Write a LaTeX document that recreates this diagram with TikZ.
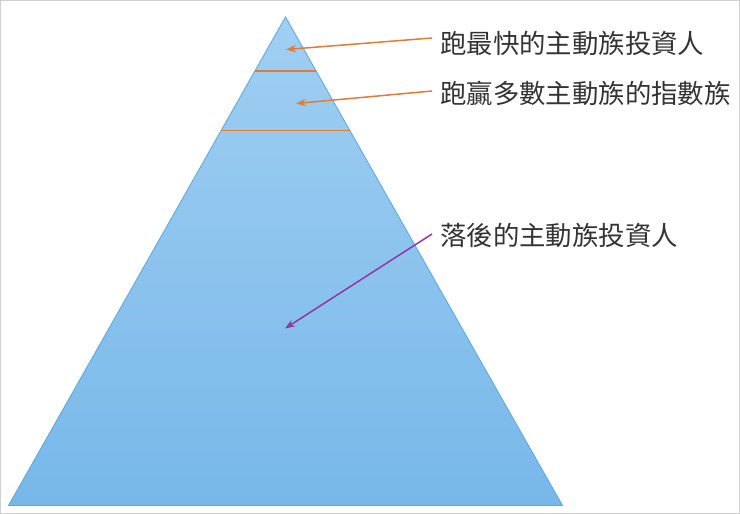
\documentclass[tikz,border=0pt]{standalone}
\usepackage{fontspec}
\newfontfamily\cjk{Noto Sans CJK TC}
\usetikzlibrary{arrows.meta, positioning, calc}
\definecolor{pyrtop}{HTML}{A0CFF2}
\definecolor{pyrbot}{HTML}{77B8E9}
\definecolor{pyredge}{HTML}{5AA6DC}
\definecolor{tierline}{HTML}{E07B39}
\definecolor{lagarrow}{HTML}{9435A8}
\definecolor{framegray}{HTML}{CFCFCF}

\begin{document}
\begin{tikzpicture}[
    x=1pt, y=-1pt,
    label/.style={anchor=west, inner sep=0pt, font=\cjk\fontsize{26.4}{30}\selectfont, text=black!80},
    arrow/.style={-{Stealth[length=3.5mm, width=2.6mm]}, line width=1.5pt},
    tier/.style={draw=tierline, line width=1.6pt}
]
\useasboundingbox (0,0) rectangle (740,514);

% Frame
\draw[framegray, line width=1pt] (0.5,0.5) rectangle (739.5,513.5);

% Pyramid
\coordinate (apex) at (285.5,17);
\coordinate (bl) at (8.5,505.5);
\coordinate (br) at (562.5,505.5);
\shade[top color=pyrtop, bottom color=pyrbot, draw=pyredge, thick]
    (apex) -- (br) -- (bl) -- cycle;

% Tiers
\coordinate (t1l) at ($(apex)!0.1106!(bl)$);
\coordinate (t1r) at ($(apex)!0.1106!(br)$);
\coordinate (t2l) at ($(apex)!0.2325!(bl)$);
\coordinate (t2r) at ($(apex)!0.2325!(br)$);
\path[tier] (t1l) -- (t1r);
\path[tier] (t2l) -- (t2r);

% Nodes
\node[label] (fast) at (440,43) {跑最快的主動族投資人};
\node[label] (index) at (440,93) {跑贏多數主動族的指數族};
\node[label] (lag) at (440,235) {落後的主動族投資人};
\coordinate (topin) at (286,49.5);
\coordinate (midin) at (296,103.5);
\coordinate (lowin) at (285,328.5);

% Arrows
\draw[arrow, tierline] ([xshift=-8pt, yshift=5pt]fast.west) -- (topin);
\draw[arrow, tierline] ([xshift=-8pt, yshift=2pt]index.west) -- (midin);
\draw[arrow, lagarrow] ([xshift=-8pt, yshift=1pt]lag.west) -- (lowin);

\end{tikzpicture}
\end{document}
